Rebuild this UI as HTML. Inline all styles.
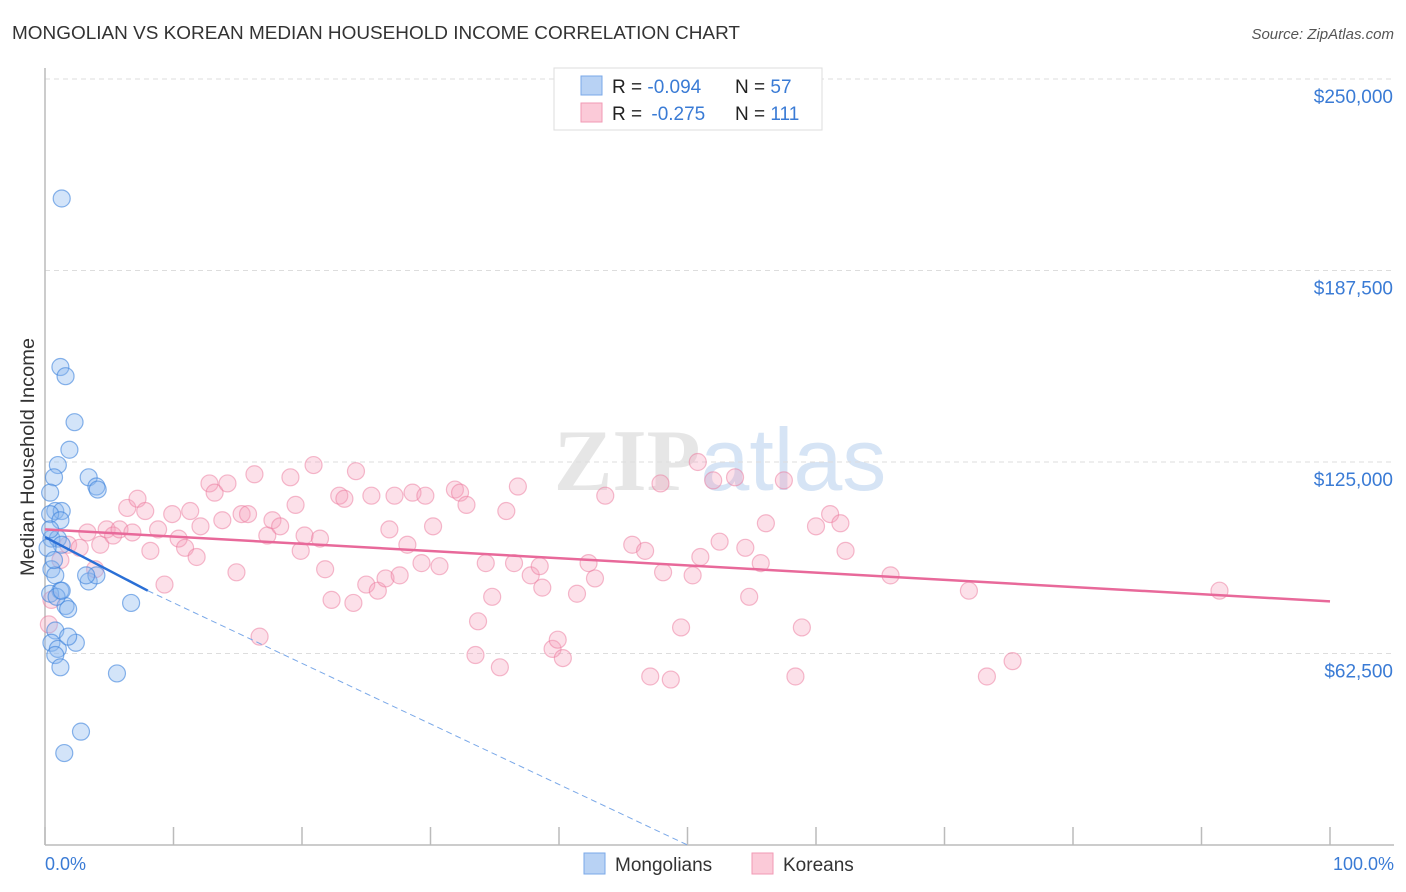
<!DOCTYPE html>
<html><head><meta charset="utf-8"><style>
body{margin:0;background:#fff;font-family:"Liberation Sans",sans-serif;}
#wrap{position:relative;width:1406px;height:892px;overflow:hidden;}
</style></head><body>
<div id="wrap">
<svg id="svg" width="1406" height="892" xmlns="http://www.w3.org/2000/svg">
<text x="12" y="39" font-size="18" fill="#333" textLength="728" lengthAdjust="spacingAndGlyphs">MONGOLIAN VS KOREAN MEDIAN HOUSEHOLD INCOME CORRELATION CHART</text>
<text x="1394" y="39" font-size="15" fill="#555" font-style="italic" text-anchor="end">Source: ZipAtlas.com</text>
<text x="720" y="490" font-size="88" fill="#e6e6e6" text-anchor="middle" font-family="Liberation Serif, serif" font-weight="bold">ZIP<tspan fill="#d6e4f5" font-family="Liberation Sans, sans-serif" font-weight="normal">atlas</tspan></text>
<g id="grid"></g><g id="axes"></g><g id="pts"></g><g id="trends"></g>
<text x="34" y="457" font-size="19" fill="#333" text-anchor="middle" transform="rotate(-90 34 457)" textLength="238" lengthAdjust="spacingAndGlyphs">Median Household Income</text>
<text x="45" y="870" font-size="18" fill="#3a7bd5">0.0%</text>
<text x="1394" y="870" font-size="18" fill="#3a7bd5" text-anchor="end">100.0%</text>
<g>
<rect x="554" y="68" width="268" height="62" fill="#fff" stroke="#ddd"/>
<rect x="581" y="76" width="21" height="19" fill="#b8d2f4" stroke="#7aa8e8"/>
<rect x="581" y="103" width="21" height="19" fill="#fbcad8" stroke="#f29ab4"/>
<text x="612" y="93" font-size="19" fill="#222">R = <tspan fill="#3a7bd5">-0.094</tspan><tspan x="735">N = </tspan><tspan fill="#3a7bd5">57</tspan></text>
<text x="612" y="120" font-size="19" fill="#222">R = <tspan fill="#3a7bd5" dx="4">-0.275</tspan><tspan x="735">N = </tspan><tspan fill="#3a7bd5">111</tspan></text>
</g>
<g>
<rect x="584" y="853" width="21" height="21" fill="#b8d2f4" stroke="#7aa8e8"/>
<text x="615" y="871" font-size="19" fill="#333">Mongolians</text>
<rect x="752" y="853" width="21" height="21" fill="#fbcad8" stroke="#f29ab4"/>
<text x="783" y="871" font-size="19" fill="#333">Koreans</text>
</g>
</svg>
</div>
<script>
const yTicks=[62500,125000,187500,250000];
const yTickLabels=["$62,500","$125,000","$187,500","$250,000"];
const xTicks=[0,10,20,30,40,50,60,70,80,90,100];
const mongX=[1.3,1.2,1.6,2.3,1.9,1.0,0.7,0.4,3.4,4.0,4.1,0.8,1.3,0.4,1.2,0.5,1.0,1.3,0.2,0.5,0.8,1.2,0.4,1.6,1.8,3.4,4.0,3.2,0.8,0.5,1.0,0.8,1.2,2.4,1.8,6.7,5.6,2.8,1.5,0.9,1.3,0.4,0.7];
const mongY=[211,156,153,138,129,124,120,115,120,117,116,109,109,108,106,100,100,98,97,90,88,83,82,78,77,86,88,88,70,66,64,62,58,66,68,79,56,37,30,81,83,103,93];
const korX=[0.5,1.2,1.8,2.7,3.3,3.9,4.3,4.8,5.3,5.8,6.4,6.8,7.2,7.8,8.2,8.8,9.3,9.9,10.4,10.9,11.3,11.8,12.1,12.8,13.2,13.8,14.2,14.9,15.3,15.8,16.3,16.7,17.3,17.7,18.3,19.1,19.5,19.9,20.2,20.9,21.4,21.8,22.3,22.9,23.3,24.0,24.2,25.0,25.4,25.9,26.5,26.8,27.2,27.6,28.2,28.6,29.3,29.6,30.2,30.7,31.9,32.3,32.8,33.7,33.5,34.3,34.8,35.4,35.9,36.5,36.8,37.8,38.5,38.7,39.5,39.9,40.3,41.4,42.3,42.8,43.6,45.7,46.7,47.1,47.9,48.1,48.7,49.5,50.4,50.8,51.0,52.0,52.5,53.7,54.5,54.8,55.7,56.1,57.5,58.4,58.9,60.0,61.1,61.9,62.3,65.8,71.9,73.3,75.3,91.4,0.3];
const korY=[80,93,98,97,102,90,98,103,101,103,110,102,113,109,96,103,85,108,100,97,109,94,104,118,115,106,118,89,108,108,121,68,101,106,104,120,111,96,101,124,100,90,80,114,113,79,122,85,114,83,87,103,114,88,98,115,92,114,104,91,116,115,111,73,62,92,81,58,109,92,117,88,91,84,64,67,61,82,92,87,114,98,96,55,118,89,54,71,88,125,94,119,99,120,97,81,92,105,119,55,71,104,108,105,96,88,83,55,60,83,72];
const mongTrend=[[0,100.5],[8,83],[50,0]];
const korTrend=[[0,103],[100,79.5]];
const X=p=>45+p*12.85, Y=v=>845-v*766/250;
const NS="http://www.w3.org/2000/svg";
function mk(t,a,parent){const e=document.createElementNS(NS,t);for(const k in a)e.setAttribute(k,a[k]);document.getElementById(parent).appendChild(e);return e;}
yTicks.forEach((t,i)=>{
 const l=mk('line',{x1:45,x2:1394,y1:Y(t/1000),y2:Y(t/1000),stroke:'#ddd','stroke-dasharray':'5,4'},'grid');
 
 
 const tx=mk('text',{x:1393,y:Y(t/1000)+24,'font-size':19,fill:'#3a7bd5','text-anchor':'end'},'grid');
 tx.textContent=yTickLabels[i];
 
 
});
const ax=mk('line',{x1:45,x2:45,y1:68,y2:845,stroke:'#bbb','stroke-width':1.5},'axes');


const bx=mk('line',{x1:45,x2:1394,y1:845,y2:845,stroke:'#bbb','stroke-width':1.5},'axes');


xTicks.forEach(t=>{
 const l=mk('line',{x1:X(t),x2:X(t),y1:827,y2:845,stroke:'#bbb','stroke-width':1.5},'axes');
 
 
});
korX.forEach((x,i)=>{
 const c=mk('circle',{cx:X(x),cy:Y(korY[i]),r:8.5,fill:'rgba(246,160,186,0.32)',stroke:'rgba(236,120,155,0.5)','stroke-width':1.2},'pts');
 
 
});
mongX.forEach((x,i)=>{
 const c=mk('circle',{cx:X(x),cy:Y(mongY[i]),r:8.5,fill:'rgba(140,185,240,0.38)',stroke:'rgba(60,130,220,0.6)','stroke-width':1.2},'pts');
 
 
});
const kt=mk('line',{x1:X(korTrend[0][0]),y1:Y(korTrend[0][1]),x2:X(korTrend[1][0]),y2:Y(korTrend[1][1]),stroke:'#e8699a','stroke-width':2.5},'trends');


const mt=mk('line',{x1:X(mongTrend[0][0]),y1:Y(mongTrend[0][1]),x2:X(mongTrend[1][0]),y2:Y(mongTrend[1][1]),stroke:'#2a6fd6','stroke-width':2.5},'trends');


const md=mk('line',{x1:X(mongTrend[1][0]),y1:Y(mongTrend[1][1]),x2:X(mongTrend[2][0]),y2:Y(mongTrend[2][1]),stroke:'#7aa8e8','stroke-width':1,'stroke-dasharray':'6,4'},'trends');


</script>
</body></html>
